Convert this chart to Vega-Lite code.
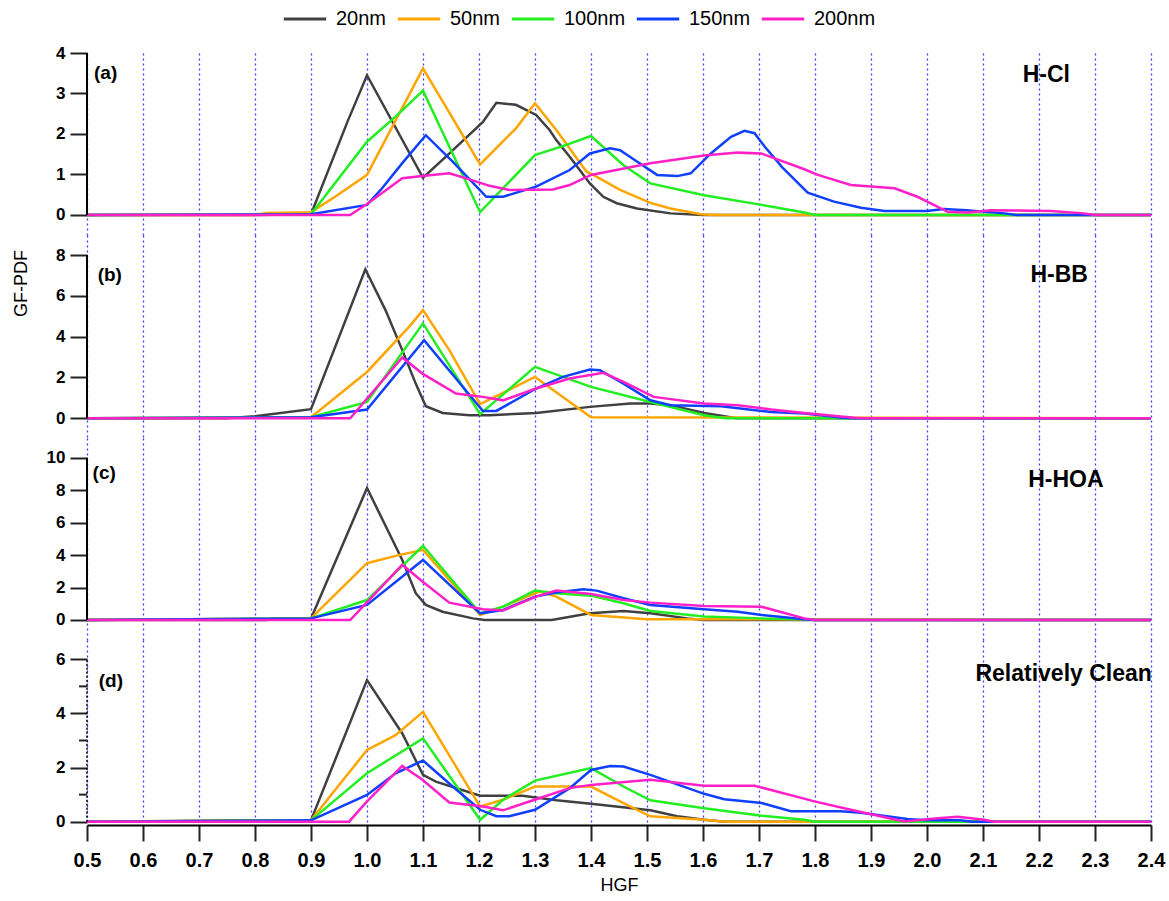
{
"$schema": "https://vega.github.io/schema/vega-lite/v6.json",
"padding": {"left": 12, "top": -4, "right": 19, "bottom": 5},
"background": "white",
"config": {"view": {"stroke": null}, "font": "Liberation Sans",
  "axisX": {"grid": true, "gridColor": "#3c3cff", "gridDash": [2,3], "gridWidth": 1.3, "gridOpacity": 1},
  "axisY": {"grid": false, "domain": false, "tickColor": "#222", "tickWidth": 2, "tickSize": 17, "labelFont": "Liberation Sans", "labelFontWeight": "bold", "labelFontSize": 17, "labelColor": "#000", "labelPadding": 5}
},
"spacing": 0,
"data": {"values": [
{"p":"a","s":"20nm","x":0.5,"y":0},{"p":"a","s":"20nm","x":0.8,"y":0},{"p":"a","s":"20nm","x":0.9,"y":0.02},{"p":"a","s":"20nm","x":0.965,"y":2.3},{"p":"a","s":"20nm","x":1.0,"y":3.45},{"p":"a","s":"20nm","x":1.1,"y":0.92},{"p":"a","s":"20nm","x":1.141,"y":1.44},{"p":"a","s":"20nm","x":1.207,"y":2.3},{"p":"a","s":"20nm","x":1.231,"y":2.77},{"p":"a","s":"20nm","x":1.266,"y":2.72},{"p":"a","s":"20nm","x":1.302,"y":2.47},{"p":"a","s":"20nm","x":1.326,"y":2.1},{"p":"a","s":"20nm","x":1.338,"y":1.85},{"p":"a","s":"20nm","x":1.362,"y":1.44},{"p":"a","s":"20nm","x":1.398,"y":0.78},{"p":"a","s":"20nm","x":1.422,"y":0.45},{"p":"a","s":"20nm","x":1.446,"y":0.29},{"p":"a","s":"20nm","x":1.482,"y":0.16},{"p":"a","s":"20nm","x":1.542,"y":0.04},{"p":"a","s":"20nm","x":1.6,"y":0},{"p":"a","s":"20nm","x":2.4,"y":0},
{"p":"a","s":"50nm","x":0.5,"y":0},{"p":"a","s":"50nm","x":0.8,"y":0},{"p":"a","s":"50nm","x":0.82,"y":0.05},{"p":"a","s":"50nm","x":0.9,"y":0.07},{"p":"a","s":"50nm","x":0.943,"y":0.45},{"p":"a","s":"50nm","x":1.0,"y":0.99},{"p":"a","s":"50nm","x":1.1,"y":3.62},{"p":"a","s":"50nm","x":1.202,"y":1.25},{"p":"a","s":"50nm","x":1.266,"y":2.14},{"p":"a","s":"50nm","x":1.3,"y":2.76},{"p":"a","s":"50nm","x":1.338,"y":2.1},{"p":"a","s":"50nm","x":1.392,"y":1.07},{"p":"a","s":"50nm","x":1.404,"y":0.99},{"p":"a","s":"50nm","x":1.452,"y":0.62},{"p":"a","s":"50nm","x":1.506,"y":0.3},{"p":"a","s":"50nm","x":1.542,"y":0.16},{"p":"a","s":"50nm","x":1.596,"y":0.02},{"p":"a","s":"50nm","x":1.62,"y":0},{"p":"a","s":"50nm","x":2.4,"y":0},
{"p":"a","s":"100nm","x":0.5,"y":0},{"p":"a","s":"100nm","x":0.9,"y":0.02},{"p":"a","s":"100nm","x":1.0,"y":1.81},{"p":"a","s":"100nm","x":1.051,"y":2.43},{"p":"a","s":"100nm","x":1.1,"y":3.07},{"p":"a","s":"100nm","x":1.202,"y":0.07},{"p":"a","s":"100nm","x":1.3,"y":1.48},{"p":"a","s":"100nm","x":1.356,"y":1.73},{"p":"a","s":"100nm","x":1.4,"y":1.95},{"p":"a","s":"100nm","x":1.458,"y":1.23},{"p":"a","s":"100nm","x":1.506,"y":0.78},{"p":"a","s":"100nm","x":1.602,"y":0.49},{"p":"a","s":"100nm","x":1.705,"y":0.25},{"p":"a","s":"100nm","x":1.781,"y":0.06},{"p":"a","s":"100nm","x":1.8,"y":0},{"p":"a","s":"100nm","x":2.4,"y":0},
{"p":"a","s":"150nm","x":0.5,"y":0},{"p":"a","s":"150nm","x":0.9,"y":0.02},{"p":"a","s":"150nm","x":1.0,"y":0.25},{"p":"a","s":"150nm","x":1.027,"y":0.66},{"p":"a","s":"150nm","x":1.063,"y":1.28},{"p":"a","s":"150nm","x":1.105,"y":1.97},{"p":"a","s":"150nm","x":1.153,"y":1.32},{"p":"a","s":"150nm","x":1.213,"y":0.45},{"p":"a","s":"150nm","x":1.243,"y":0.45},{"p":"a","s":"150nm","x":1.302,"y":0.7},{"p":"a","s":"150nm","x":1.362,"y":1.11},{"p":"a","s":"150nm","x":1.398,"y":1.52},{"p":"a","s":"150nm","x":1.434,"y":1.65},{"p":"a","s":"150nm","x":1.452,"y":1.6},{"p":"a","s":"150nm","x":1.482,"y":1.32},{"p":"a","s":"150nm","x":1.518,"y":0.99},{"p":"a","s":"150nm","x":1.554,"y":0.96},{"p":"a","s":"150nm","x":1.578,"y":1.03},{"p":"a","s":"150nm","x":1.614,"y":1.52},{"p":"a","s":"150nm","x":1.65,"y":1.93},{"p":"a","s":"150nm","x":1.674,"y":2.08},{"p":"a","s":"150nm","x":1.692,"y":2.02},{"p":"a","s":"150nm","x":1.71,"y":1.69},{"p":"a","s":"150nm","x":1.742,"y":1.17},{"p":"a","s":"150nm","x":1.787,"y":0.55},{"p":"a","s":"150nm","x":1.834,"y":0.33},{"p":"a","s":"150nm","x":1.882,"y":0.18},{"p":"a","s":"150nm","x":1.924,"y":0.1},{"p":"a","s":"150nm","x":2.0,"y":0.1},{"p":"a","s":"150nm","x":2.03,"y":0.15},{"p":"a","s":"150nm","x":2.07,"y":0.12},{"p":"a","s":"150nm","x":2.138,"y":0.04},{"p":"a","s":"150nm","x":2.16,"y":0},{"p":"a","s":"150nm","x":2.4,"y":0},
{"p":"a","s":"200nm","x":0.5,"y":0},{"p":"a","s":"200nm","x":0.97,"y":0},{"p":"a","s":"200nm","x":1.0,"y":0.27},{"p":"a","s":"200nm","x":1.063,"y":0.91},{"p":"a","s":"200nm","x":1.099,"y":0.96},{"p":"a","s":"200nm","x":1.147,"y":1.03},{"p":"a","s":"200nm","x":1.183,"y":0.88},{"p":"a","s":"200nm","x":1.219,"y":0.72},{"p":"a","s":"200nm","x":1.254,"y":0.62},{"p":"a","s":"200nm","x":1.332,"y":0.63},{"p":"a","s":"200nm","x":1.362,"y":0.74},{"p":"a","s":"200nm","x":1.4,"y":0.99},{"p":"a","s":"200nm","x":1.452,"y":1.13},{"p":"a","s":"200nm","x":1.506,"y":1.28},{"p":"a","s":"200nm","x":1.602,"y":1.47},{"p":"a","s":"200nm","x":1.662,"y":1.54},{"p":"a","s":"200nm","x":1.704,"y":1.52},{"p":"a","s":"200nm","x":1.781,"y":1.13},{"p":"a","s":"200nm","x":1.805,"y":0.99},{"p":"a","s":"200nm","x":1.864,"y":0.74},{"p":"a","s":"200nm","x":1.942,"y":0.66},{"p":"a","s":"200nm","x":1.983,"y":0.45},{"p":"a","s":"200nm","x":2.037,"y":0.08},{"p":"a","s":"200nm","x":2.073,"y":0.06},{"p":"a","s":"200nm","x":2.114,"y":0.12},{"p":"a","s":"200nm","x":2.221,"y":0.1},{"p":"a","s":"200nm","x":2.28,"y":0.04},{"p":"a","s":"200nm","x":2.3,"y":0},{"p":"a","s":"200nm","x":2.4,"y":0},
{"p":"b","s":"20nm","x":0.5,"y":0},{"p":"b","s":"20nm","x":0.75,"y":0},{"p":"b","s":"20nm","x":0.8,"y":0.1},{"p":"b","s":"20nm","x":0.9,"y":0.45},{"p":"b","s":"20nm","x":0.997,"y":7.3},{"p":"b","s":"20nm","x":1.033,"y":5.3},{"p":"b","s":"20nm","x":1.063,"y":3.34},{"p":"b","s":"20nm","x":1.087,"y":1.7},{"p":"b","s":"20nm","x":1.105,"y":0.59},{"p":"b","s":"20nm","x":1.135,"y":0.26},{"p":"b","s":"20nm","x":1.183,"y":0.15},{"p":"b","s":"20nm","x":1.219,"y":0.15},{"p":"b","s":"20nm","x":1.302,"y":0.26},{"p":"b","s":"20nm","x":1.398,"y":0.56},{"p":"b","s":"20nm","x":1.47,"y":0.72},{"p":"b","s":"20nm","x":1.506,"y":0.72},{"p":"b","s":"20nm","x":1.542,"y":0.64},{"p":"b","s":"20nm","x":1.602,"y":0.26},{"p":"b","s":"20nm","x":1.638,"y":0.1},{"p":"b","s":"20nm","x":1.66,"y":0},{"p":"b","s":"20nm","x":2.4,"y":0},
{"p":"b","s":"50nm","x":0.5,"y":0},{"p":"b","s":"50nm","x":0.9,"y":0.05},{"p":"b","s":"50nm","x":1.0,"y":2.27},{"p":"b","s":"50nm","x":1.075,"y":4.48},{"p":"b","s":"50nm","x":1.1,"y":5.3},{"p":"b","s":"50nm","x":1.147,"y":3.34},{"p":"b","s":"50nm","x":1.202,"y":0.69},{"p":"b","s":"50nm","x":1.3,"y":2.03},{"p":"b","s":"50nm","x":1.4,"y":0.05},{"p":"b","s":"50nm","x":2.4,"y":0},
{"p":"b","s":"100nm","x":0.5,"y":0},{"p":"b","s":"100nm","x":0.9,"y":0.05},{"p":"b","s":"100nm","x":1.0,"y":0.8},{"p":"b","s":"100nm","x":1.1,"y":4.65},{"p":"b","s":"100nm","x":1.202,"y":0.2},{"p":"b","s":"100nm","x":1.3,"y":2.52},{"p":"b","s":"100nm","x":1.4,"y":1.54},{"p":"b","s":"100nm","x":1.506,"y":0.8},{"p":"b","s":"100nm","x":1.602,"y":0.15},{"p":"b","s":"100nm","x":1.64,"y":0},{"p":"b","s":"100nm","x":2.4,"y":0},
{"p":"b","s":"150nm","x":0.5,"y":0},{"p":"b","s":"150nm","x":0.9,"y":0.05},{"p":"b","s":"150nm","x":1.0,"y":0.43},{"p":"b","s":"150nm","x":1.102,"y":3.83},{"p":"b","s":"150nm","x":1.207,"y":0.36},{"p":"b","s":"150nm","x":1.231,"y":0.36},{"p":"b","s":"150nm","x":1.302,"y":1.46},{"p":"b","s":"150nm","x":1.35,"y":2.03},{"p":"b","s":"150nm","x":1.398,"y":2.39},{"p":"b","s":"150nm","x":1.416,"y":2.36},{"p":"b","s":"150nm","x":1.458,"y":1.7},{"p":"b","s":"150nm","x":1.506,"y":0.88},{"p":"b","s":"150nm","x":1.542,"y":0.64},{"p":"b","s":"150nm","x":1.632,"y":0.59},{"p":"b","s":"150nm","x":1.722,"y":0.31},{"p":"b","s":"150nm","x":1.781,"y":0.23},{"p":"b","s":"150nm","x":1.85,"y":0.03},{"p":"b","s":"150nm","x":1.87,"y":0},{"p":"b","s":"150nm","x":2.4,"y":0},
{"p":"b","s":"200nm","x":0.5,"y":0},{"p":"b","s":"200nm","x":0.97,"y":0},{"p":"b","s":"200nm","x":1.063,"y":2.98},{"p":"b","s":"200nm","x":1.099,"y":2.19},{"p":"b","s":"200nm","x":1.159,"y":1.21},{"p":"b","s":"200nm","x":1.207,"y":1.05},{"p":"b","s":"200nm","x":1.243,"y":0.88},{"p":"b","s":"200nm","x":1.302,"y":1.46},{"p":"b","s":"200nm","x":1.362,"y":1.95},{"p":"b","s":"200nm","x":1.422,"y":2.23},{"p":"b","s":"200nm","x":1.458,"y":1.78},{"p":"b","s":"200nm","x":1.512,"y":1.05},{"p":"b","s":"200nm","x":1.602,"y":0.72},{"p":"b","s":"200nm","x":1.662,"y":0.64},{"p":"b","s":"200nm","x":1.722,"y":0.43},{"p":"b","s":"200nm","x":1.781,"y":0.26},{"p":"b","s":"200nm","x":1.87,"y":0.03},{"p":"b","s":"200nm","x":1.89,"y":0},{"p":"b","s":"200nm","x":2.4,"y":0},
{"p":"c","s":"20nm","x":0.5,"y":0},{"p":"c","s":"20nm","x":0.82,"y":0},{"p":"c","s":"20nm","x":0.83,"y":0.1},{"p":"c","s":"20nm","x":0.9,"y":0.1},{"p":"c","s":"20nm","x":1.0,"y":8.13},{"p":"c","s":"20nm","x":1.063,"y":3.7},{"p":"c","s":"20nm","x":1.087,"y":1.65},{"p":"c","s":"20nm","x":1.105,"y":0.93},{"p":"c","s":"20nm","x":1.135,"y":0.51},{"p":"c","s":"20nm","x":1.189,"y":0.1},{"p":"c","s":"20nm","x":1.21,"y":0},{"p":"c","s":"20nm","x":1.33,"y":0},{"p":"c","s":"20nm","x":1.398,"y":0.41},{"p":"c","s":"20nm","x":1.458,"y":0.56},{"p":"c","s":"20nm","x":1.506,"y":0.41},{"p":"c","s":"20nm","x":1.572,"y":0.1},{"p":"c","s":"20nm","x":1.6,"y":0},{"p":"c","s":"20nm","x":2.4,"y":0},
{"p":"c","s":"50nm","x":0.5,"y":0},{"p":"c","s":"50nm","x":0.9,"y":0.1},{"p":"c","s":"50nm","x":1.0,"y":3.5},{"p":"c","s":"50nm","x":1.051,"y":3.95},{"p":"c","s":"50nm","x":1.1,"y":4.32},{"p":"c","s":"50nm","x":1.147,"y":2.47},{"p":"c","s":"50nm","x":1.202,"y":0.31},{"p":"c","s":"50nm","x":1.243,"y":0.82},{"p":"c","s":"50nm","x":1.308,"y":1.75},{"p":"c","s":"50nm","x":1.338,"y":1.44},{"p":"c","s":"50nm","x":1.4,"y":0.31},{"p":"c","s":"50nm","x":1.5,"y":0.05},{"p":"c","s":"50nm","x":2.4,"y":0},
{"p":"c","s":"100nm","x":0.5,"y":0},{"p":"c","s":"100nm","x":0.9,"y":0.1},{"p":"c","s":"100nm","x":1.0,"y":1.23},{"p":"c","s":"100nm","x":1.1,"y":4.57},{"p":"c","s":"100nm","x":1.202,"y":0.41},{"p":"c","s":"100nm","x":1.243,"y":0.82},{"p":"c","s":"100nm","x":1.3,"y":1.81},{"p":"c","s":"100nm","x":1.338,"y":1.65},{"p":"c","s":"100nm","x":1.4,"y":1.5},{"p":"c","s":"100nm","x":1.458,"y":1.03},{"p":"c","s":"100nm","x":1.506,"y":0.56},{"p":"c","s":"100nm","x":1.602,"y":0.21},{"p":"c","s":"100nm","x":1.705,"y":0.1},{"p":"c","s":"100nm","x":1.781,"y":0.04},{"p":"c","s":"100nm","x":1.8,"y":0},{"p":"c","s":"100nm","x":2.4,"y":0},
{"p":"c","s":"150nm","x":0.5,"y":0},{"p":"c","s":"150nm","x":0.9,"y":0.1},{"p":"c","s":"150nm","x":1.0,"y":0.93},{"p":"c","s":"150nm","x":1.1,"y":3.7},{"p":"c","s":"150nm","x":1.202,"y":0.41},{"p":"c","s":"150nm","x":1.243,"y":0.62},{"p":"c","s":"150nm","x":1.3,"y":1.44},{"p":"c","s":"150nm","x":1.338,"y":1.69},{"p":"c","s":"150nm","x":1.386,"y":1.89},{"p":"c","s":"150nm","x":1.41,"y":1.81},{"p":"c","s":"150nm","x":1.458,"y":1.34},{"p":"c","s":"150nm","x":1.506,"y":0.93},{"p":"c","s":"150nm","x":1.602,"y":0.66},{"p":"c","s":"150nm","x":1.662,"y":0.51},{"p":"c","s":"150nm","x":1.705,"y":0.31},{"p":"c","s":"150nm","x":1.781,"y":0.04},{"p":"c","s":"150nm","x":1.8,"y":0},{"p":"c","s":"150nm","x":2.4,"y":0},
{"p":"c","s":"200nm","x":0.5,"y":0},{"p":"c","s":"200nm","x":0.97,"y":0},{"p":"c","s":"200nm","x":1.063,"y":3.4},{"p":"c","s":"200nm","x":1.099,"y":2.37},{"p":"c","s":"200nm","x":1.147,"y":1.07},{"p":"c","s":"200nm","x":1.207,"y":0.66},{"p":"c","s":"200nm","x":1.243,"y":0.58},{"p":"c","s":"200nm","x":1.302,"y":1.44},{"p":"c","s":"200nm","x":1.338,"y":1.81},{"p":"c","s":"200nm","x":1.4,"y":1.6},{"p":"c","s":"200nm","x":1.458,"y":1.23},{"p":"c","s":"200nm","x":1.506,"y":1.07},{"p":"c","s":"200nm","x":1.602,"y":0.86},{"p":"c","s":"200nm","x":1.704,"y":0.82},{"p":"c","s":"200nm","x":1.781,"y":0.1},{"p":"c","s":"200nm","x":1.8,"y":0},{"p":"c","s":"200nm","x":2.4,"y":0},
{"p":"d","s":"20nm","x":0.5,"y":0},{"p":"d","s":"20nm","x":0.8,"y":0.05},{"p":"d","s":"20nm","x":0.9,"y":0.05},{"p":"d","s":"20nm","x":1.0,"y":5.23},{"p":"d","s":"20nm","x":1.063,"y":3.26},{"p":"d","s":"20nm","x":1.1,"y":1.73},{"p":"d","s":"20nm","x":1.123,"y":1.48},{"p":"d","s":"20nm","x":1.202,"y":0.96},{"p":"d","s":"20nm","x":1.278,"y":0.96},{"p":"d","s":"20nm","x":1.338,"y":0.79},{"p":"d","s":"20nm","x":1.4,"y":0.66},{"p":"d","s":"20nm","x":1.506,"y":0.42},{"p":"d","s":"20nm","x":1.554,"y":0.2},{"p":"d","s":"20nm","x":1.602,"y":0.07},{"p":"d","s":"20nm","x":1.64,"y":0},{"p":"d","s":"20nm","x":2.4,"y":0},
{"p":"d","s":"50nm","x":0.5,"y":0},{"p":"d","s":"50nm","x":0.9,"y":0.05},{"p":"d","s":"50nm","x":1.0,"y":2.65},{"p":"d","s":"50nm","x":1.051,"y":3.2},{"p":"d","s":"50nm","x":1.1,"y":4.06},{"p":"d","s":"50nm","x":1.202,"y":0.56},{"p":"d","s":"50nm","x":1.243,"y":0.81},{"p":"d","s":"50nm","x":1.3,"y":1.3},{"p":"d","s":"50nm","x":1.4,"y":1.3},{"p":"d","s":"50nm","x":1.458,"y":0.69},{"p":"d","s":"50nm","x":1.506,"y":0.2},{"p":"d","s":"50nm","x":1.602,"y":0.07},{"p":"d","s":"50nm","x":1.64,"y":0},{"p":"d","s":"50nm","x":2.4,"y":0},
{"p":"d","s":"100nm","x":0.5,"y":0},{"p":"d","s":"100nm","x":0.9,"y":0.05},{"p":"d","s":"100nm","x":1.0,"y":1.79},{"p":"d","s":"100nm","x":1.1,"y":3.08},{"p":"d","s":"100nm","x":1.202,"y":0.07},{"p":"d","s":"100nm","x":1.243,"y":0.81},{"p":"d","s":"100nm","x":1.3,"y":1.52},{"p":"d","s":"100nm","x":1.4,"y":1.98},{"p":"d","s":"100nm","x":1.458,"y":1.3},{"p":"d","s":"100nm","x":1.506,"y":0.79},{"p":"d","s":"100nm","x":1.602,"y":0.5},{"p":"d","s":"100nm","x":1.705,"y":0.22},{"p":"d","s":"100nm","x":1.781,"y":0.07},{"p":"d","s":"100nm","x":1.8,"y":0},{"p":"d","s":"100nm","x":2.4,"y":0},
{"p":"d","s":"150nm","x":0.5,"y":0},{"p":"d","s":"150nm","x":0.9,"y":0.05},{"p":"d","s":"150nm","x":1.0,"y":0.99},{"p":"d","s":"150nm","x":1.051,"y":1.79},{"p":"d","s":"150nm","x":1.1,"y":2.26},{"p":"d","s":"150nm","x":1.153,"y":1.3},{"p":"d","s":"150nm","x":1.202,"y":0.44},{"p":"d","s":"150nm","x":1.231,"y":0.2},{"p":"d","s":"150nm","x":1.254,"y":0.2},{"p":"d","s":"150nm","x":1.3,"y":0.44},{"p":"d","s":"150nm","x":1.362,"y":1.24},{"p":"d","s":"150nm","x":1.4,"y":1.91},{"p":"d","s":"150nm","x":1.434,"y":2.06},{"p":"d","s":"150nm","x":1.458,"y":2.04},{"p":"d","s":"150nm","x":1.506,"y":1.73},{"p":"d","s":"150nm","x":1.602,"y":1.03},{"p":"d","s":"150nm","x":1.638,"y":0.83},{"p":"d","s":"150nm","x":1.705,"y":0.69},{"p":"d","s":"150nm","x":1.757,"y":0.39},{"p":"d","s":"150nm","x":1.846,"y":0.39},{"p":"d","s":"150nm","x":1.882,"y":0.33},{"p":"d","s":"150nm","x":1.965,"y":0.1},{"p":"d","s":"150nm","x":2.0,"y":0.05},{"p":"d","s":"150nm","x":2.06,"y":0.05},{"p":"d","s":"150nm","x":2.08,"y":0},{"p":"d","s":"150nm","x":2.4,"y":0},
{"p":"d","s":"200nm","x":0.5,"y":0},{"p":"d","s":"200nm","x":0.968,"y":0},{"p":"d","s":"200nm","x":1.0,"y":0.75},{"p":"d","s":"200nm","x":1.063,"y":2.06},{"p":"d","s":"200nm","x":1.099,"y":1.55},{"p":"d","s":"200nm","x":1.147,"y":0.71},{"p":"d","s":"200nm","x":1.207,"y":0.56},{"p":"d","s":"200nm","x":1.243,"y":0.42},{"p":"d","s":"200nm","x":1.302,"y":0.83},{"p":"d","s":"200nm","x":1.362,"y":1.24},{"p":"d","s":"200nm","x":1.4,"y":1.36},{"p":"d","s":"200nm","x":1.506,"y":1.55},{"p":"d","s":"200nm","x":1.602,"y":1.33},{"p":"d","s":"200nm","x":1.692,"y":1.33},{"p":"d","s":"200nm","x":1.799,"y":0.75},{"p":"d","s":"200nm","x":1.864,"y":0.44},{"p":"d","s":"200nm","x":1.959,"y":0.01},{"p":"d","s":"200nm","x":2.019,"y":0.13},{"p":"d","s":"200nm","x":2.055,"y":0.18},{"p":"d","s":"200nm","x":2.102,"y":0.07},{"p":"d","s":"200nm","x":2.12,"y":0},{"p":"d","s":"200nm","x":2.4,"y":0}
]},
"vconcat": [
{"width": 1064, "height": 182,
 "layer": [
  {"transform": [{"filter": "datum.p == 'a'"}],
   "mark": {"type": "line", "strokeWidth": 2.5},
   "encoding": {
    "x": {"field": "x", "type": "quantitative", "scale": {"domain": [0.5, 2.4], "nice": false, "zero": false}, "axis": {"values": [0.5,0.6,0.7,0.8,0.9,1.0,1.1,1.2,1.3,1.4,1.5,1.6,1.7,1.8,1.9,2.0,2.1,2.2,2.3,2.4], "labels": false, "ticks": false, "domain": false, "title": null}},
    "y": {"field": "y", "type": "quantitative", "scale": {"domain": [-0.494, 4], "nice": false, "zero": false}, "axis": {"values": [0,1,2,3,4], "title": null}},
    "color": {"field": "s", "type": "nominal", "scale": {"domain": ["20nm","50nm","100nm","150nm","200nm"], "range": ["#404040","#ffa500","#22ee22","#1040ff","#ff20c8"]},
      "legend": {"orient": "none", "legendX": 195, "legendY": -57, "direction": "horizontal", "title": null, "symbolType": "stroke", "symbolSize": 1800, "symbolStrokeWidth": 3, "labelFontSize": 20, "labelFont": "Liberation Sans", "labelColor": "#000", "labelOffset": 8, "columnPadding": 4}}
   }},
  {"data": {"values": [{"lo": 0, "hi": 4}]}, "mark": {"type": "rule", "color": "#000", "strokeWidth": 2},
   "encoding": {"x": {"datum": 0.5, "type": "quantitative"}, "y": {"field": "lo", "type": "quantitative"}, "y2": {"field": "hi"}}},
  {"data": {"values": [{"t": "(a)"}]}, "mark": {"type": "text", "align": "left", "baseline": "middle", "fontSize": 19, "fontWeight": "bold", "font": "Liberation Sans", "color": "#000"},
   "encoding": {"x": {"datum": 0.5125, "type": "quantitative"}, "y": {"datum": 3.5, "type": "quantitative"}, "text": {"field": "t"}}},
  {"data": {"values": [{"t": "H-Cl"}]}, "mark": {"type": "text", "align": "center", "baseline": "middle", "fontSize": 23, "fontWeight": "bold", "font": "Liberation Sans", "color": "#000"},
   "encoding": {"x": {"datum": 2.213, "type": "quantitative"}, "y": {"datum": 3.46, "type": "quantitative"}, "text": {"field": "t"}}}
 ]},
{"width": 1064, "height": 203,
 "layer": [
  {"transform": [{"filter": "datum.p == 'b'"}],
   "mark": {"type": "line", "strokeWidth": 2.5},
   "encoding": {
    "x": {"field": "x", "type": "quantitative", "scale": {"domain": [0.5, 2.4], "nice": false, "zero": false}, "axis": {"values": [0.5,0.6,0.7,0.8,0.9,1.0,1.1,1.2,1.3,1.4,1.5,1.6,1.7,1.8,1.9,2.0,2.1,2.2,2.3,2.4], "labels": false, "ticks": false, "domain": false, "title": null}},
    "y": {"field": "y", "type": "quantitative", "scale": {"domain": [-0.965, 8.98], "nice": false, "zero": false}, "axis": {"values": [0,2,4,6,8], "title": "GF-PDF", "titleFont": "Liberation Sans", "titleFontSize": 18, "titleFontWeight": "normal", "titleColor": "#000", "titleX": -57, "titleY": 48}},
    "color": {"field": "s", "type": "nominal", "legend": null}
   }},
  {"data": {"values": [{"lo": 0, "hi": 8}]}, "mark": {"type": "rule", "color": "#000", "strokeWidth": 2},
   "encoding": {"x": {"datum": 0.5, "type": "quantitative"}, "y": {"field": "lo", "type": "quantitative"}, "y2": {"field": "hi"}}},
  {"data": {"values": [{"t": "(b)"}]}, "mark": {"type": "text", "align": "left", "baseline": "middle", "fontSize": 19, "fontWeight": "bold", "font": "Liberation Sans", "color": "#000"},
   "encoding": {"x": {"datum": 0.519, "type": "quantitative"}, "y": {"datum": 7.02, "type": "quantitative"}, "text": {"field": "t"}}},
  {"data": {"values": [{"t": "H-BB"}]}, "mark": {"type": "text", "align": "center", "baseline": "middle", "fontSize": 23, "fontWeight": "bold", "font": "Liberation Sans", "color": "#000"},
   "encoding": {"x": {"datum": 2.236, "type": "quantitative"}, "y": {"datum": 7.02, "type": "quantitative"}, "text": {"field": "t"}}}
 ]},
{"width": 1064, "height": 202,
 "layer": [
  {"transform": [{"filter": "datum.p == 'c'"}],
   "mark": {"type": "line", "strokeWidth": 2.5},
   "encoding": {
    "x": {"field": "x", "type": "quantitative", "scale": {"domain": [0.5, 2.4], "nice": false, "zero": false}, "axis": {"values": [0.5,0.6,0.7,0.8,0.9,1.0,1.1,1.2,1.3,1.4,1.5,1.6,1.7,1.8,1.9,2.0,2.1,2.2,2.3,2.4], "labels": false, "ticks": false, "domain": false, "title": null}},
    "y": {"field": "y", "type": "quantitative", "scale": {"domain": [-1.232, 11.21], "nice": false, "zero": false}, "axis": {"values": [0,2,4,6,8,10], "title": null}},
    "color": {"field": "s", "type": "nominal", "legend": null}
   }},
  {"data": {"values": [{"lo": 0, "hi": 10}]}, "mark": {"type": "rule", "color": "#000", "strokeWidth": 2},
   "encoding": {"x": {"datum": 0.5, "type": "quantitative"}, "y": {"field": "lo", "type": "quantitative"}, "y2": {"field": "hi"}}},
  {"data": {"values": [{"t": "(c)"}]}, "mark": {"type": "text", "align": "left", "baseline": "middle", "fontSize": 19, "fontWeight": "bold", "font": "Liberation Sans", "color": "#000"},
   "encoding": {"x": {"datum": 0.51, "type": "quantitative"}, "y": {"datum": 9.06, "type": "quantitative"}, "text": {"field": "t"}}},
  {"data": {"values": [{"t": "H-HOA"}]}, "mark": {"type": "text", "align": "center", "baseline": "middle", "fontSize": 23, "fontWeight": "bold", "font": "Liberation Sans", "color": "#000"},
   "encoding": {"x": {"datum": 2.248, "type": "quantitative"}, "y": {"datum": 8.63, "type": "quantitative"}, "text": {"field": "t"}}}
 ]},
{"width": 1064, "height": 185,
 "layer": [
  {"transform": [{"filter": "datum.p == 'd'"}],
   "mark": {"type": "line", "strokeWidth": 2.5},
   "encoding": {
    "x": {"field": "x", "type": "quantitative", "scale": {"domain": [0.5, 2.4], "nice": false, "zero": false}, "axis": {"values": [0.5,0.6,0.7,0.8,0.9,1.0,1.1,1.2,1.3,1.4,1.5,1.6,1.7,1.8,1.9,2.0,2.1,2.2,2.3,2.4], "format": ".1f", "title": "HGF", "domain": true, "domainColor": "#000", "domainWidth": 2, "ticks": true, "tickColor": "#222", "tickWidth": 2, "tickSize": 16, "labelFont": "Liberation Sans", "labelFontSize": 20, "labelFontWeight": "bold", "labelColor": "#000", "labelPadding": 9, "labelOverlap": false, "labelFlush": false, "titleFont": "Liberation Sans", "titleFontSize": 18, "titleFontWeight": "normal", "titleColor": "#000", "titlePadding": 6}},
    "y": {"field": "y", "type": "quantitative", "scale": {"domain": [-0.122, 6.713], "nice": false, "zero": false}, "axis": {"values": [0,2,4,6], "title": null}},
    "color": {"field": "s", "type": "nominal", "legend": null}
   }},
  {"data": {"values": [{"lo": 0, "hi": 6}]}, "mark": {"type": "rule", "color": "#000", "strokeWidth": 1.5, "strokeDash": [2, 2]},
   "encoding": {"x": {"datum": 0.5, "type": "quantitative"}, "y": {"field": "lo", "type": "quantitative"}, "y2": {"field": "hi"}}},
  {"data": {"values": [{"m": 1}, {"m": 3}, {"m": 5}]}, "mark": {"type": "rule", "color": "#222", "strokeWidth": 2},
   "encoding": {"x": {"datum": 0.4857, "type": "quantitative"}, "x2": {"datum": 0.5}, "y": {"field": "m", "type": "quantitative"}}},
  {"data": {"values": [{"t": "(d)"}]}, "mark": {"type": "text", "align": "left", "baseline": "middle", "fontSize": 19, "fontWeight": "bold", "font": "Liberation Sans", "color": "#000"},
   "encoding": {"x": {"datum": 0.521, "type": "quantitative"}, "y": {"datum": 5.2, "type": "quantitative"}, "text": {"field": "t"}}},
  {"data": {"values": [{"t": "Relatively Clean"}]}, "mark": {"type": "text", "align": "center", "baseline": "middle", "fontSize": 23, "fontWeight": "bold", "font": "Liberation Sans", "color": "#000"},
   "encoding": {"x": {"datum": 2.244, "type": "quantitative"}, "y": {"datum": 5.46, "type": "quantitative"}, "text": {"field": "t"}}}
 ]}
]
}
